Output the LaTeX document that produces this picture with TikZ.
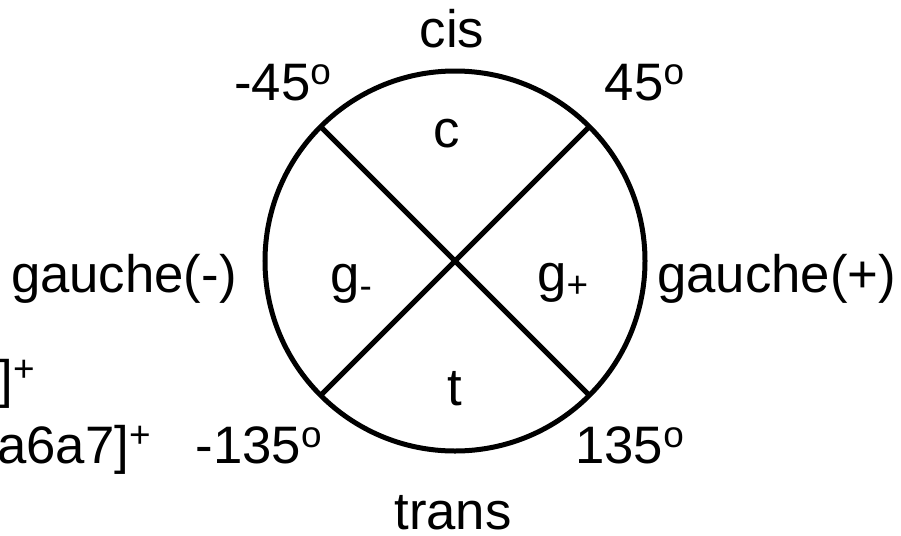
\documentclass[tikz,border=0pt]{standalone}
\usepackage{fontspec}
\setmainfont{Liberation Sans}
\usepackage{tikz}
\usetikzlibrary{positioning}

\begin{document}
\begin{tikzpicture}[
  dial/.style={circle,draw,line width=0.1cm,minimum size=7.6cm,inner sep=0pt,outer sep=0pt},
  bond/.style={line width=0.1cm},
  lbl/.style={inner sep=0pt,font=\fontsize{30}{36}\selectfont},
]
\useasboundingbox (-9.10,-5.48) rectangle (8.92,5.22);
\node[dial] (dial) at (0,0) {};

\draw[bond] (dial.135) -- (dial.-45);
\draw[bond] (dial.45) -- (dial.-135);

% angles and conformer names
\node[lbl,anchor=base] (cis) at (-0.06,4.28) {cis};
\node[lbl,anchor=base] (trans) at (-0.04,-5.36) {trans};
\node[lbl,anchor=base] (mfortyfive) at (-3.44,3.22) {-45\textsuperscript{o}};
\node[lbl,anchor=base] (pfortyfive) at (3.80,3.22) {45\textsuperscript{o}};
\node[lbl,anchor=base east] (mthirtyfive) at (-2.64,-4.04) {-135\textsuperscript{o}};
\node[lbl,anchor=base west] (pthirtyfive) at (2.40,-4.04) {135\textsuperscript{o}};
\node[lbl,anchor=base east] (gminus) at (-4.36,-0.62) {gauche(-)};
\node[lbl,anchor=base west] (gplus) at (4.04,-0.62) {gauche(+)};

% sectors
\node[lbl,anchor=base] (secc) at (-0.16,2.28) {c};
\node[lbl,anchor=base] (sect) at (0,-2.88) {t};
\node[lbl,anchor=base west] (secgm) at (-2.50,-0.62) {g\textsubscript{-}};
\node[lbl,anchor=base west] (secgp) at (1.64,-0.60) {g\textsubscript{+}};

% cut-off labels at the left edge
\node[lbl,anchor=base east] (ionone) at (-8.38,-2.72) {]\textsuperscript{+}};
\node[lbl,anchor=base east] (iontwo) at (-6.06,-4.04) {a6a7]\textsuperscript{+}};
\end{tikzpicture}
\end{document}
